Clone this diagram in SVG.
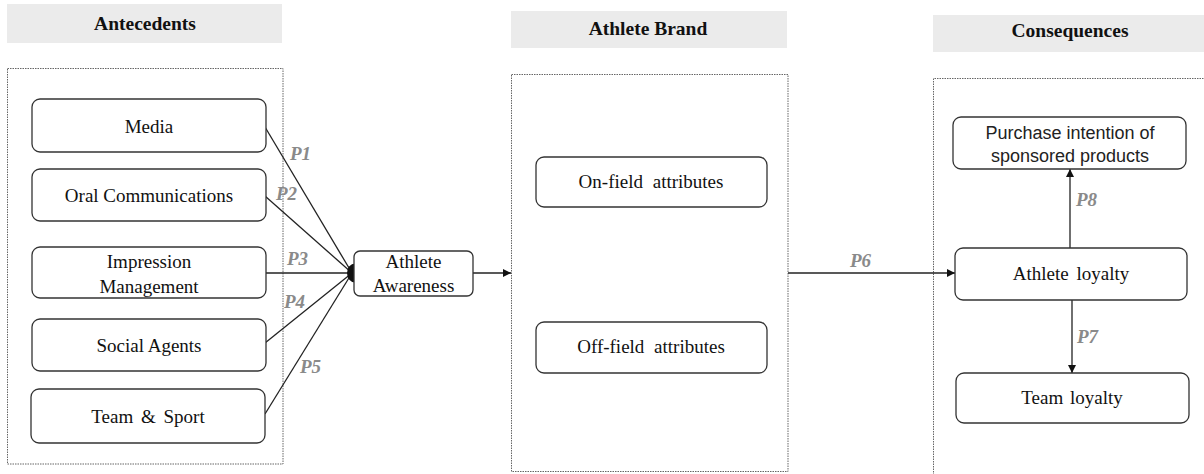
<svg xmlns="http://www.w3.org/2000/svg" width="1204" height="474" viewBox="0 0 1204 474">
<style>
.bar{fill:#ebebeb}
.hdr{font-family:"Liberation Serif","Times New Roman",serif;font-weight:bold;font-size:19.5px;fill:#111;text-anchor:middle}
.cont{fill:none;stroke:#666;stroke-width:1;stroke-dasharray:1.5 1}
.node{fill:#fff;stroke:#333;stroke-width:1.3}
.t{font-family:"Liberation Serif","Times New Roman",serif;font-size:19px;fill:#111;text-anchor:middle}
.ts{font-family:"Liberation Sans",Arial,sans-serif;font-size:18px;fill:#222;text-anchor:middle}
.p{font-family:"Liberation Serif","Times New Roman",serif;font-size:19px;font-style:italic;font-weight:bold;fill:#8a8a8a}
.ln{fill:none;stroke:#222;stroke-width:1.3}
</style>
<defs>
<marker id="ah" viewBox="0 0 10 10" refX="10" refY="5" markerWidth="8" markerHeight="8" markerUnits="userSpaceOnUse" orient="auto">
<path d="M0,0 L10,5 L0,10 Z" fill="#111"/>
</marker>
</defs>

<g id="headers">
<rect class="bar" x="7" y="4" width="275" height="39"/>
<text class="hdr" x="145" y="30">Antecedents</text>
<rect class="bar" x="511" y="11" width="276" height="37"/>
<text class="hdr" x="648" y="35">Athlete Brand</text>
<rect class="bar" x="933" y="15" width="271" height="37"/>
<text class="hdr" x="1070" y="37">Consequences</text>
</g>

<g id="containers">
<rect class="cont" x="7.5" y="68.5" width="275.5" height="395.5"/>
<rect class="cont" x="511.5" y="74.5" width="276.5" height="397"/>
<path class="cont" d="M933.5,480 V78.5 H1210"/>
</g>

<g id="connectors">
<line class="ln" x1="265" y1="127" x2="352" y2="273"/>
<line class="ln" x1="265" y1="196" x2="352" y2="273"/>
<line class="ln" x1="265" y1="273" x2="352" y2="273"/>
<line class="ln" x1="265" y1="343" x2="352" y2="273"/>
<line class="ln" x1="265" y1="414" x2="352" y2="273"/>
<path d="M355,263.5 A8,9.5 0 0 0 355,282.5 Z" fill="#111"/>
<line class="ln" x1="473" y1="273" x2="511" y2="273" marker-end="url(#ah)"/>
<line class="ln" x1="788" y1="273" x2="955" y2="273" marker-end="url(#ah)"/>
<line class="ln" x1="1070" y1="248" x2="1070" y2="169" marker-end="url(#ah)"/>
<line class="ln" x1="1072" y1="300" x2="1072" y2="373" marker-end="url(#ah)"/>
<text class="p" x="290" y="160">P1</text>
<text class="p" x="276" y="200">P2</text>
<text class="p" x="287" y="265">P3</text>
<text class="p" x="284" y="308">P4</text>
<text class="p" x="300" y="373">P5</text>
<text class="p" x="850" y="267">P6</text>
<text class="p" x="1077" y="343">P7</text>
<text class="p" x="1076" y="206">P8</text>
</g>

<g id="media">
<rect class="node" x="32" y="99" width="234" height="53" rx="8"/>
<text class="t" x="149" y="132.5">Media</text>
</g>
<g id="oral">
<rect class="node" x="32" y="169" width="234" height="52" rx="8"/>
<text class="t" x="149" y="201.5">Oral Communications</text>
</g>
<g id="impression">
<rect class="node" x="32" y="247" width="234" height="51" rx="8"/>
<text class="t" x="149" y="268">Impression</text>
<text class="t" x="149" y="293">Management</text>
</g>
<g id="social">
<rect class="node" x="32" y="319" width="234" height="52" rx="8"/>
<text class="t" x="149" y="351.5">Social Agents</text>
</g>
<g id="team-sport">
<rect class="node" x="31" y="389" width="234" height="54" rx="8"/>
<text class="t" x="148" y="422.5" word-spacing="3">Team &amp; Sport</text>
</g>
<g id="awareness">
<rect class="node" x="354" y="251" width="119" height="45" rx="6"/>
<text class="t" x="413.5" y="268">Athlete</text>
<text class="t" x="413.5" y="292">Awareness</text>
</g>
<g id="onfield">
<rect class="node" x="536" y="157" width="231" height="50" rx="8"/>
<text class="t" x="651" y="188" word-spacing="5">On-field attributes</text>
</g>
<g id="offfield">
<rect class="node" x="536" y="322" width="231" height="51" rx="8"/>
<text class="t" x="651" y="353" word-spacing="5">Off-field attributes</text>
</g>
<g id="purchase">
<rect class="node" x="953" y="117" width="233" height="52" rx="8"/>
<text class="ts" x="1070" y="139">Purchase intention of</text>
<text class="ts" x="1070" y="162">sponsored products</text>
</g>
<g id="athlete-loyalty">
<rect class="node" x="955" y="248" width="232" height="52" rx="8"/>
<text class="t" x="1071" y="280" word-spacing="3">Athlete loyalty</text>
</g>
<g id="team-loyalty">
<rect class="node" x="956" y="373" width="233" height="50" rx="8"/>
<text class="t" x="1072" y="404" word-spacing="2">Team loyalty</text>
</g>
</svg>
